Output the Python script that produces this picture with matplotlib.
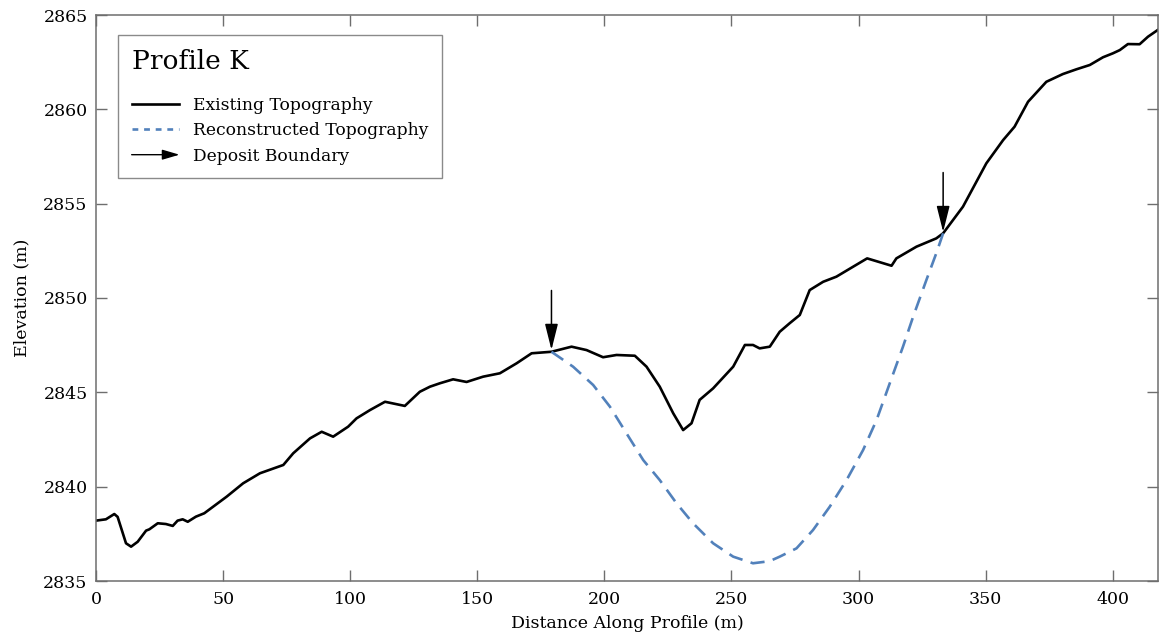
import matplotlib
matplotlib.use("Agg")
import matplotlib.pyplot as plt
from matplotlib.patches import FancyArrowPatch
from matplotlib.lines import Line2D
from matplotlib.legend_handler import HandlerBase

plt.rcParams['font.family'] = ['DejaVu Serif']

# Existing topography (distance m, elevation m)
exist_x = [0, 3.9, 7.2, 8.5, 11.8, 13.8, 16.4, 19.7, 21, 24.3, 27.5, 30.2, 32.1, 34.1,
           36.1, 39.3, 42.6, 46.5, 51.4,
           57.9, 64.5, 73.7, 77.6, 84.2, 88.8, 93.3, 99.2, 102.5, 107.8, 113.7, 121.5,
           127.4, 131.4, 135.3, 140.5, 145.8, 152.3, 158.9, 165.5, 171.4, 179.2, 187.1,
           193.0, 199.5, 204.8, 212.0, 216.6, 221.8, 227.1, 231.0, 234.3, 237.5, 242.8,
           250.7, 255.3, 258.5, 261.1, 265.1, 269.0, 272.9, 276.9, 280.8, 286.1, 291.3,
           297.9, 303.4, 313.0, 314.9, 322.8, 330.6, 333.3, 341.1, 350.3, 356.9, 361.4,
           366.7, 373.9, 380.4, 385.7, 391.0, 396.2, 400.1, 402.8, 406.0, 410.6, 413.9,
           418.1]
exist_y = [2838.2, 2838.27, 2838.55, 2838.4, 2837.0, 2836.82, 2837.08, 2837.67, 2837.74,
           2838.06, 2838.02, 2837.92, 2838.2, 2838.27, 2838.14, 2838.41, 2838.59, 2838.98,
           2839.47, 2840.18, 2840.71,
           2841.15, 2841.77, 2842.56, 2842.91, 2842.65, 2843.18, 2843.62, 2844.06, 2844.5,
           2844.28, 2845.03, 2845.3, 2845.48, 2845.69, 2845.55, 2845.83, 2846.01, 2846.54,
           2847.07, 2847.15, 2847.42, 2847.24, 2846.86, 2846.98, 2846.94, 2846.36, 2845.30,
           2843.89, 2843.0, 2843.36, 2844.6, 2845.21, 2846.36, 2847.51, 2847.51, 2847.33,
           2847.42, 2848.21, 2848.66, 2849.1, 2850.42, 2850.86, 2851.13, 2851.66, 2852.1,
           2851.71, 2852.1, 2852.72, 2853.16, 2853.43, 2854.84, 2857.14, 2858.37, 2859.08,
           2860.40, 2861.46, 2861.87, 2862.12, 2862.35, 2862.76, 2862.97, 2863.14, 2863.46,
           2863.45, 2863.85, 2864.24]

# Reconstructed topography
recon_x = [179.2, 187.7, 195.6, 202.2, 208.7, 215.3, 221.8, 228.4, 234.9, 242.8, 250.7,
           258.5, 265.0, 269.0, 275.6, 282.1, 288.7, 295.3, 301.8, 307.1, 312.3, 317.5,
           321.5, 326.7, 330.6, 333.3]
recon_y = [2847.15, 2846.36, 2845.39, 2844.24, 2842.83, 2841.41, 2840.35, 2839.12,
           2838.06, 2837.0, 2836.29, 2835.94, 2836.05, 2836.29, 2836.73, 2837.70, 2838.94,
           2840.35, 2841.94, 2843.53, 2845.48, 2847.42, 2849.01, 2850.95, 2852.37, 2853.43]

# Deposit boundaries (x, y)
boundary_x = [179.2, 333.3]
boundary_y = [2847.25, 2853.5]
arrow_len = 3.15

xticks = [0, 50, 100, 150, 200, 250, 300, 350, 400]
yticks = [2835, 2840, 2845, 2850, 2855, 2860, 2865]

blue = '#5281bb'
spine_c = '#6e6e6e'

fig = plt.figure(figsize=(11.59, 6.40), dpi=100)
ax = fig.add_axes([96/1159, 1-581/640, 1-96/1159 - 0.0005, (581-15)/640])

ax.plot(exist_x, exist_y, color='black', lw=1.9, solid_joinstyle='round')
ax.plot(recon_x, recon_y, color=blue, lw=1.9, dashes=(5.4, 3.2))

for bx, by in zip(boundary_x, boundary_y):
    ax.annotate('', xy=(bx, by), xytext=(bx, by + arrow_len),
                arrowprops=dict(arrowstyle='-|>,head_length=0.8,head_width=0.2',
                                mutation_scale=20, color='black', lw=1.1,
                                shrinkA=0, shrinkB=0))

ax.set_xlim(0, 418)
ax.set_ylim(2835, 2865)
ax.set_xticks(xticks)
ax.set_yticks(yticks)
ax.tick_params(direction='in', length=8, width=1.0, color=spine_c,
               top=True, right=True, labelsize=12.5)
ax.tick_params(axis='x', pad=7)
ax.tick_params(axis='y', pad=6)
for s in ax.spines.values():
    s.set_color(spine_c)
    s.set_linewidth(1.1)

ax.set_xlabel('Distance Along Profile (m)', fontsize=12.5, labelpad=5)
ax.set_ylabel('Elevation (m)', fontsize=12.5, labelpad=9)


class HandlerArrow(HandlerBase):
    def create_artists(self, legend, orig_handle, xdescent, ydescent, width, height,
                       fontsize, trans):
        y = (height - ydescent) / 2.0
        p = FancyArrowPatch((-xdescent, y), (width - xdescent, y),
                            arrowstyle='-|>,head_length=0.75,head_width=0.22',
                            mutation_scale=14, color='black', lw=1.0,
                            shrinkA=0, shrinkB=0, transform=trans)
        return [p]


h1 = Line2D([], [], color='black', lw=1.9)
h2 = Line2D([], [], color=blue, lw=1.9, dashes=(2.2, 2.2))
h3 = Line2D([], [], color='black')
leg = ax.legend([h1, h2, h3],
                ['Existing Topography', 'Reconstructed Topography', 'Deposit Boundary'],
                handler_map={h3: HandlerArrow()},
                loc='upper left', bbox_to_anchor=((118-96)/1063, (581-35)/566),
                borderaxespad=0, fontsize=12.3, title='Profile K',
                title_fontproperties={'size': 19}, alignment='left',
                handlelength=2.8, handletextpad=0.8, labelspacing=0.5,
                borderpad=0.8, fancybox=False, framealpha=1, edgecolor='#8a8a8a')
leg.get_frame().set_linewidth(1.0)
leg._legend_box.sep = 16.5

fig.savefig('out.png', dpi=100)
